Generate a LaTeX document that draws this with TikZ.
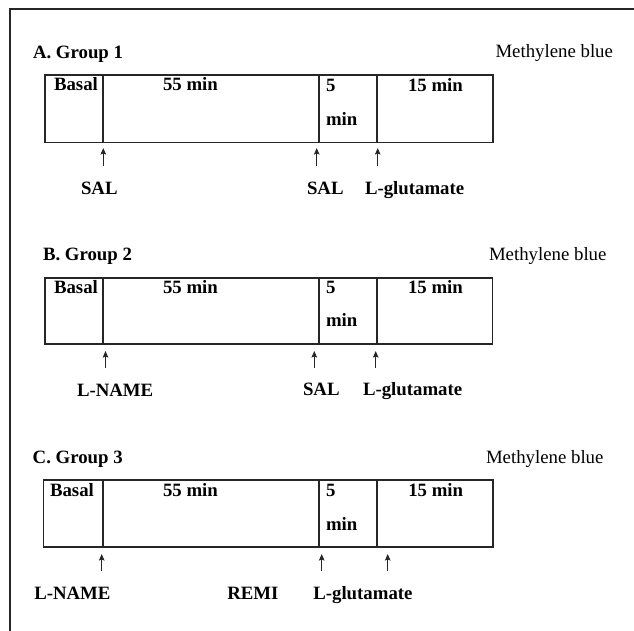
\documentclass[tikz,border=0pt]{standalone}
\usepackage{fontspec}
\setmainfont{Liberation Serif}
\usetikzlibrary{arrows.meta}
\tikzset{
  txt/.style={inner sep=0pt, outer sep=0pt, anchor=base west, font=\fontsize{18.8}{22}\selectfont},
  btxt/.style={txt, font=\fontsize{18.8}{22}\selectfont\bfseries},
  boxline/.style={draw=black!85, line width=1.7pt},
  frameline/.style={draw=black!85, line width=1.3pt},
  ptr/.style={draw=black!85, line width=1.3pt, -{Stealth[length=6.5pt,width=5.5pt,inset=1pt]}}
}
\begin{document}
\begin{tikzpicture}[x=1pt,y=-1pt]
\useasboundingbox (0,0) rectangle (634,631);
% frame
\coordinate (fbl) at (10,631);
\coordinate (ftl) at (10,9);
\coordinate (ftr) at (634,9);
\draw[frameline] (fbl) -- (ftl) -- (ftr);

% ---------- Group A ----------
\node[btxt] (tA) at (33,59) {A. Group 1};
\node[txt] (mA) at (495.5,57.5) {Methylene blue};
\draw[boxline] (45,75) rectangle (493,142.5);
\draw[boxline] (103.3,75) -- (103.3,142.5);
\draw[boxline] (319.3,75) -- (319.3,142.5);
\draw[boxline] (377,75) -- (377,142.5);
\node[btxt] (bA) at (54,90.7) {Basal};
\node[btxt] (fA) at (163,90.7) {55 min};
\node[btxt] (vA) at (326,91.7) {5};
\node[btxt] (wA) at (326,125.7) {min};
\node[btxt] (xA) at (408,92) {15 min};
\coordinate (pA1t) at (103.3,166); \coordinate (pA1h) at (103.3,148);
\coordinate (pA2t) at (316.7,166); \coordinate (pA2h) at (316.7,148);
\coordinate (pA3t) at (377.7,166); \coordinate (pA3h) at (377.7,148);
\draw[ptr] (pA1t) -- (pA1h);
\draw[ptr] (pA2t) -- (pA2h);
\draw[ptr] (pA3t) -- (pA3h);
\node[btxt] (lA1) at (81,194.5) {SAL};
\node[btxt] (lA2) at (307,195) {SAL};
\node[btxt] (lA3) at (365,195) {L-glutamate};

% ---------- Group B ----------
\node[btxt] (tB) at (43,260) {B. Group 2};
\node[txt] (mB) at (489,260.7) {Methylene blue};
\draw[boxline] (45,278.3) rectangle (492.5,344.3);
\draw[boxline] (103.3,278.3) -- (103.3,344.3);
\draw[boxline] (319.3,278.3) -- (319.3,344.3);
\draw[boxline] (376.7,278.3) -- (376.7,344.3);
\node[btxt] (bB) at (54,293.3) {Basal};
\node[btxt] (fB) at (163,293.3) {55 min};
\node[btxt] (vB) at (326,293) {5};
\node[btxt] (wB) at (326,326.7) {min};
\node[btxt] (xB) at (408,293) {15 min};
\coordinate (pB1t) at (105.5,367.7); \coordinate (pB1h) at (105.5,351);
\coordinate (pB2t) at (314.3,367.7); \coordinate (pB2h) at (314.3,351);
\coordinate (pB3t) at (375.7,367.7); \coordinate (pB3h) at (375.7,351);
\draw[ptr] (pB1t) -- (pB1h);
\draw[ptr] (pB2t) -- (pB2h);
\draw[ptr] (pB3t) -- (pB3h);
\node[btxt] (lB1) at (77,396) {L-NAME};
\node[btxt] (lB2) at (303,395.7) {SAL};
\node[btxt] (lB3) at (363,395.7) {L-glutamate};

% ---------- Group C ----------
\node[btxt] (tC) at (32.7,463.3) {C. Group 3};
\node[txt] (mC) at (486,463.3) {Methylene blue};
\draw[boxline] (43.5,480) rectangle (492.7,547.3);
\draw[boxline] (103.3,480) -- (103.3,547.3);
\draw[boxline] (319.3,480) -- (319.3,547.3);
\draw[boxline] (376.7,480) -- (376.7,547.3);
\node[btxt] (bC) at (50,496) {Basal};
\node[btxt] (fC) at (163,496.5) {55 min};
\node[btxt] (vC) at (326,496.7) {5};
\node[btxt] (wC) at (326,530) {min};
\node[btxt] (xC) at (408.3,496.7) {15 min};
\coordinate (pC1t) at (101.7,570.7); \coordinate (pC1h) at (101.7,554);
\coordinate (pC2t) at (321.7,570.7); \coordinate (pC2h) at (321.7,554);
\coordinate (pC3t) at (387.7,570.7); \coordinate (pC3h) at (387.7,554);
\draw[ptr] (pC1t) -- (pC1h);
\draw[ptr] (pC2t) -- (pC2h);
\draw[ptr] (pC3t) -- (pC3h);
\node[btxt] (lC1) at (34.3,599.3) {L-NAME};
\node[btxt] (lC2) at (227.3,599.3) {REMI};
\node[btxt] (lC3) at (313.3,599.3) {L-glutamate};
\end{tikzpicture}
\end{document}
